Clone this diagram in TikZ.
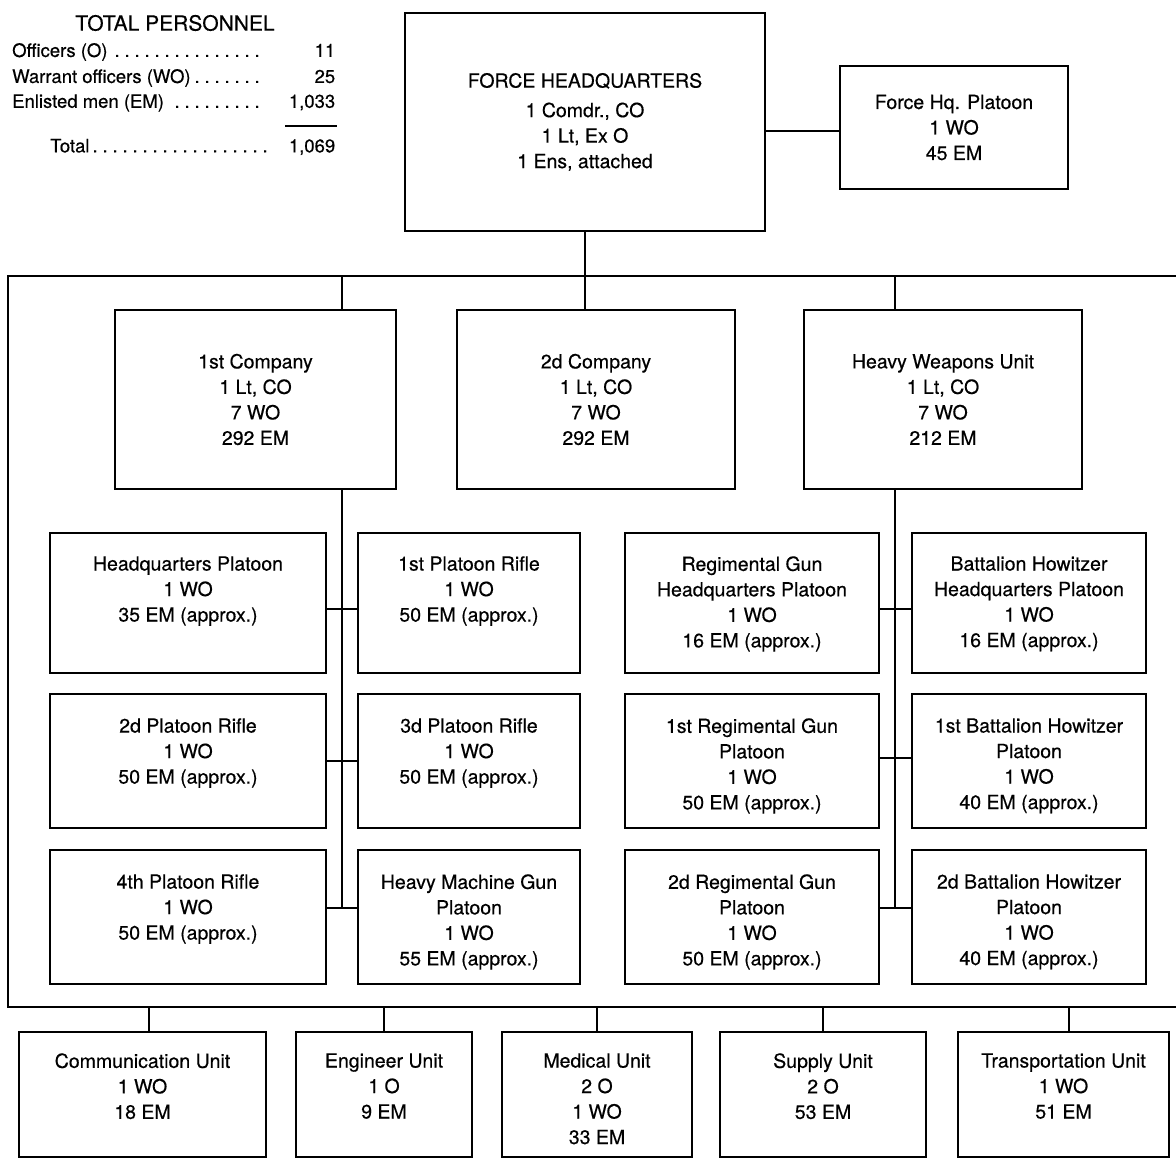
\documentclass[tikz,border=0pt]{standalone}
\usepackage{fontspec}
\setmainfont{TeX Gyre Heros}[BoldFont={TeX Gyre Heros}, BoldFeatures={FakeBold=0.45}]
\usetikzlibrary{positioning}

\newcommand{\tpdots}{\leaders\hbox to 10pt{\hss.\hss}\hfill}

\tikzset{
  unit/.style={draw, line width=1.8pt, inner sep=0pt, align=center, font=\fontsize{19.5}{25.5}\selectfont\bfseries},
  sub/.style={draw, line width=1.8pt, inner sep=0pt},
  lbl/.style={inner sep=0pt, align=center, font=\fontsize{19.5}{25.5}\selectfont\bfseries},
  tally/.style={anchor=west, inner sep=0pt, font=\fontsize{18.5}{22}\selectfont\bfseries},
  link/.style={line width=1.8pt},
}

\begin{document}
\begin{tikzpicture}[x=1pt, y=-1pt]

    \useasboundingbox (0,0) rectangle (1176,1159);

    % total personnel
    \node[font=\fontsize{21}{24}\selectfont\bfseries] (ttl) at (175,23) {TOTAL PERSONNEL};
    \node[tally] (offr) at (12,52) {\makebox[258pt][l]{Officers (O)\tpdots}\makebox[65pt][r]{11}};
    \node[tally] (wofr) at (12,78) {\makebox[258pt][l]{Warrant officers (WO)\tpdots}\makebox[65pt][r]{25}};
    \node[tally] (enl) at (12,103) {\makebox[258pt][l]{Enlisted men (EM)\tpdots}\makebox[65pt][r]{1,033}};
    \draw[line width=1.4pt] (285,126) -- (337,126);
    \node[tally] (tot) at (50,147) {\makebox[220pt][l]{Total\tpdots}\makebox[65pt][r]{1,069}};

    % force headquarters
    \node[unit, minimum width=360pt, minimum height=218pt] (hq) at (585,122)
        {FORCE HEADQUARTERS\\[4pt]1 Comdr., CO\\1 Lt, Ex O\\1 Ens, attached};
    \node[unit, minimum width=228pt, minimum height=123pt] (hqp) at (954,127.5)
        {Force Hq. Platoon\\1 WO\\45 EM};
    \draw[link] (hq.east |- 0,131) -- (hqp.west |- 0,131);

    % frame
    \coordinate (busL) at (8,276);
    \coordinate (busR) at (1182,276);
    \coordinate (baseL) at (8,1007);
    \coordinate (baseR) at (1182,1007);
    \draw[link] (busR) -- (busL) -- (baseL) -- (baseR);

    % companies
    \node[unit, minimum width=281pt, minimum height=179pt] (co1) at (255.5,399.5)
        {1st Company\\1 Lt, CO\\7 WO\\292 EM};
    \node[unit, minimum width=278pt, minimum height=179pt] (co2) at (596,399.5)
        {2d Company\\1 Lt, CO\\7 WO\\292 EM};
    \node[unit, minimum width=278pt, minimum height=179pt] (hwu) at (943,399.5)
        {Heavy Weapons Unit\\1 Lt, CO\\7 WO\\212 EM};

    \draw[link] (hq.south) -- (hq.south |- co2.north);
    \coordinate (sp1) at (342,908);
    \coordinate (sp2) at (895,908);
    \draw[link] (busL -| sp1) -- (sp1 |- co1.north);
    \draw[link] (sp1 |- co1.south) -- (sp1);
    \draw[link] (busL -| sp2) -- (sp2 |- hwu.north);
    \draw[link] (sp2 |- hwu.south) -- (sp2);

    % 1st company platoons
    \node[sub, minimum width=276pt, minimum height=140pt] (hqpl) at (188,603) {};
    \node[lbl, below=24pt of hqpl.north] (hqpl-t) {Headquarters Platoon\\1 WO\\35 EM (approx.)};
    \node[sub, minimum width=222pt, minimum height=140pt] (rifle1) at (469,603) {};
    \node[lbl, below=24pt of rifle1.north] (rifle1-t) {1st Platoon Rifle\\1 WO\\50 EM (approx.)};
    \node[sub, minimum width=276pt, minimum height=134pt] (rifle2) at (188,761) {};
    \node[lbl, below=25pt of rifle2.north] (rifle2-t) {2d Platoon Rifle\\1 WO\\50 EM (approx.)};
    \node[sub, minimum width=222pt, minimum height=134pt] (rifle3) at (469,761) {};
    \node[lbl, below=25pt of rifle3.north] (rifle3-t) {3d Platoon Rifle\\1 WO\\50 EM (approx.)};
    \node[sub, minimum width=276pt, minimum height=134pt] (rifle4) at (188,917) {};
    \node[lbl, below=25pt of rifle4.north] (rifle4-t) {4th Platoon Rifle\\1 WO\\50 EM (approx.)};
    \node[sub, minimum width=222pt, minimum height=134pt] (hmg) at (469,917) {};
    \node[lbl, below=25pt of hmg.north] (hmg-t) {Heavy Machine Gun\\Platoon\\1 WO\\55 EM (approx.)};

    \draw[link] (hqpl.east |- 0,609) -- (rifle1.west |- 0,609);
    \draw[link] (rifle2.east |- 0,761) -- (rifle3.west |- 0,761);
    \draw[link] (rifle4.east |- 0,908) -- (hmg.west |- 0,908);

    % heavy weapons platoons
    \node[sub, minimum width=254pt, minimum height=140pt] (rghq) at (752,603) {};
    \node[lbl, below=24pt of rghq.north] (rghq-t) {Regimental Gun\\Headquarters Platoon\\1 WO\\16 EM (approx.)};
    \node[sub, minimum width=234pt, minimum height=140pt] (bhhq) at (1029,603) {};
    \node[lbl, below=24pt of bhhq.north] (bhhq-t) {Battalion Howitzer\\Headquarters Platoon\\1 WO\\16 EM (approx.)};
    \node[sub, minimum width=254pt, minimum height=134pt] (rg1) at (752,761) {};
    \node[lbl, below=25pt of rg1.north] (rg1-t) {1st Regimental Gun\\Platoon\\1 WO\\50 EM (approx.)};
    \node[sub, minimum width=234pt, minimum height=134pt] (bh1) at (1029,761) {};
    \node[lbl, below=25pt of bh1.north] (bh1-t) {1st Battalion Howitzer\\Platoon\\1 WO\\40 EM (approx.)};
    \node[sub, minimum width=254pt, minimum height=134pt] (rg2) at (752,917) {};
    \node[lbl, below=25pt of rg2.north] (rg2-t) {2d Regimental Gun\\Platoon\\1 WO\\50 EM (approx.)};
    \node[sub, minimum width=234pt, minimum height=134pt] (bh2) at (1029,917) {};
    \node[lbl, below=25pt of bh2.north] (bh2-t) {2d Battalion Howitzer\\Platoon\\1 WO\\40 EM (approx.)};

    \draw[link] (rghq.east |- 0,609) -- (bhhq.west |- 0,609);
    \draw[link] (rg1.east |- 0,758) -- (bh1.west |- 0,758);
    \draw[link] (rg2.east |- 0,908) -- (bh2.west |- 0,908);

    % attached units
    \node[sub, minimum width=247pt, minimum height=125pt] (comm) at (142.5,1094.5) {};
    \node[lbl, below=22pt of comm.north] (comm-t) {Communication Unit\\1 WO\\18 EM};
    \node[sub, minimum width=176pt, minimum height=125pt] (engr) at (384,1094.5) {};
    \node[lbl, below=22pt of engr.north] (engr-t) {Engineer Unit\\1 O\\9 EM};
    \node[sub, minimum width=190pt, minimum height=125pt] (med) at (597,1094.5) {};
    \node[lbl, below=22pt of med.north] (med-t) {Medical Unit\\2 O\\1 WO\\33 EM};
    \node[sub, minimum width=206pt, minimum height=125pt] (supply) at (823,1094.5) {};
    \node[lbl, below=22pt of supply.north] (supply-t) {Supply Unit\\2 O\\53 EM};
    \node[sub, minimum width=211pt, minimum height=125pt] (trans) at (1063.5,1094.5) {};
    \node[lbl, below=22pt of trans.north] (trans-t) {Transportation Unit\\1 WO\\51 EM};

    \draw[link] ([xshift=6.5pt]comm.north) -- ([xshift=6.5pt]comm.north |- baseL);
    \draw[link] (engr.north) -- (engr.north |- baseL);
    \draw[link] (med.north) -- (med.north |- baseL);
    \draw[link] (supply.north) -- (supply.north |- baseL);
    \draw[link] ([xshift=5.5pt]trans.north) -- ([xshift=5.5pt]trans.north |- baseL);

\end{tikzpicture}
\end{document}
